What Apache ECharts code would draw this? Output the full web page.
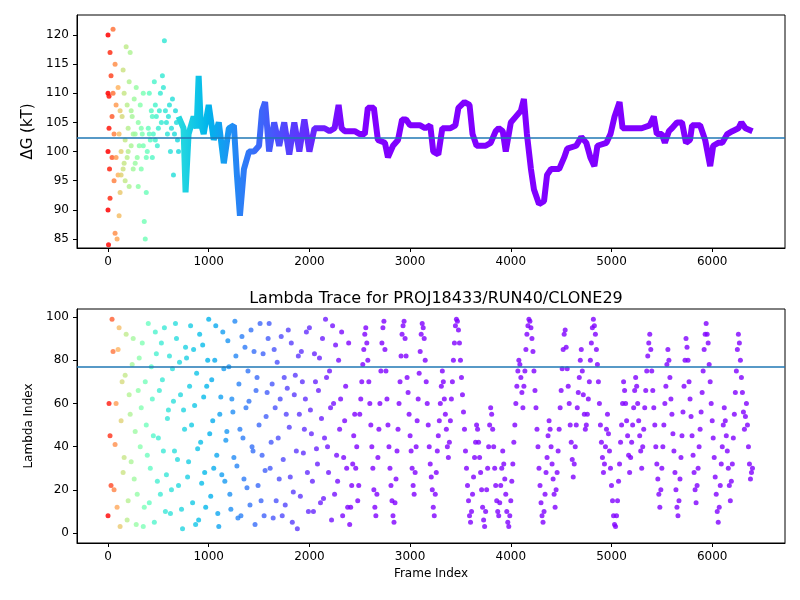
<!DOCTYPE html>
<html><head><meta charset="utf-8">
<script src="https://cdn.jsdelivr.net/npm/echarts@6/dist/echarts.min.js"></script>
<style>html,body{margin:0;padding:0;background:#fff}#c{width:800px;height:600px}</style>
</head><body><div id="c"></div>
<script>
// ΔG scattered early samples [frame, dG]
const earlyPoints = [[0,120],[0,110],[0,100],[0,90],[5,84],[10,109.5],[15,97],[20,92],[10,104],[20,117],[30,113],[40,106],[50,121],[50,110],[60,103],[60,95],[40,99],[70,86],[70,115],[80,108],[80,99],[90,85],[100,96],[100,111],[110,89],[110,103],[120,93],[130,100],[140,106],[150,114],[150,97],[160,110],[170,102],[170,95],[180,118],[190,108],[190,99],[200,104],[210,94],[210,112],[220,117],[230,101],[240,106],[250,97],[260,109],[270,103],[280,111],[290,99],[300,105],[300,94],[310,101],[320,108],[330,97],[340,103],[350,110],[360,88],[370,85],[380,93],[390,100],[400,104],[410,110],[420,102],[430,107],[440,99],[450,103],[460,112],[470,108],[480,106],[490,101],[500,104],[520,110],[540,113],[560,119],[570,107],[580,105],[600,106],[620,100],[640,109],[650,96],[660,103],[680,105],[700,100],
[120,107],[130,96],[160,98],[200,100],[230,107],[250,103],[270,98],[330,104],[350,101],[380,99],[410,103],[440,106],[470,102],[510,107],[530,105],[550,111],[590,103],[610,108],[630,104],[670,107],[690,102]];
// ΔG trace after frame 700
const traceFrames = [700,750,770,800,850,880,900,920,950,1000,1050,1100,1150,1200,1250,1280,1310,1350,1400,1450,1500,1530,1560,1600,1650,1700,1750,1800,1850,1900,1950,2000,2050,2100,2150,2200,2250,2290,2320,2350,2400,2450,2500,2550,2580,2640,2680,2750,2780,2830,2880,2920,2960,3000,3050,3100,3150,3200,3230,3280,3320,3400,3450,3480,3540,3590,3620,3660,3750,3800,3850,3880,3920,3950,4000,4050,4100,4130,4160,4200,4230,4280,4330,4360,4400,4480,4530,4560,4650,4700,4750,4790,4830,4860,4950,4990,5030,5080,5110,5200,5300,5380,5420,5450,5500,5530,5570,5600,5650,5700,5740,5780,5800,5880,5930,5980,6010,6060,6100,6150,6200,6260,6290,6330,6400];
const traceDG = [106,104,93,103,106,104,113,105,103,108,102,105,98,104,104.5,96,89,97,100,100,101,107,108.5,100,105,101,105,99.5,105,100,105.5,100,104,104,104,103.5,104,108,104,103.5,103.5,103.5,103,103,107.5,107.5,102,101.5,99,101,102,105.5,105.5,104.5,104.5,104.5,104,104.5,100,99.5,104,104,104.5,107.5,108.5,108,103,101,101,101.5,103.5,104,103.5,100,105,106,107,109,103,97,93.5,91,91.5,96,97,97,99,100.5,101,102.5,101.5,99,97.5,101,101.5,103,106,108.5,104,104,104,104.5,106,103,103,101.5,103.5,104,105,105,101.5,102,104.5,104.5,102,97.5,101,101.5,101.5,103,103.5,104,105,104,103.5];
// Lambda index every 20 frames starting at 0
const lambdaStep = 20;
const lambdaValues = [
8,45,99,20,60,85,3,70,35,92,15,55,78,25,4,66,40,88,12,50,
97,30,62,5,83,44,18,71,95,27,57,9,76,38,90,22,64,2,48,81,
33,96,14,59,74,6,42,87,28,68,99,17,52,80,36,3,63,93,24,47,
77,11,56,98,31,69,8,44,86,21,61,94,38,4,72,50,15,83,29,65,
97,42,7,58,79,25,91,34,13,67,49,88,19,73,2,55,84,37,62,28,
95,46,10,70,32,81,53,16,99,40,75,6,60,87,24,48,93,35,68,12,
4,22,45,30,15,55,70,85,95,80,60,40,20,8,35,60,88,98,75,50,
30,15,5,25,48,70,92,98,82,65,45,30,18,40,62,84,97,90,70,50,
32,20,8,28,45,60,75,62,48,35,52,70,88,99,94,80,64,48,30,15,
5,18,35,50,42,28,12,3,20,40,58,48,30,15,8,22,38,25,10,3,
15,32,50,68,80,72,58,75,92,99,95,84,66,48,30,14,5,18,35,52,
40,25,12,28,48,66,85,94,76,60,42,26,40,58,72,85,64,48,55,70,
88,99,92,78,60,42,28,40,55,38,22,8,3,15,32,50,70,60,45,28,
42,58,72,60,45,30,48,66,82,92,75,58,40,25,12,30,50,68,85,72,
55,38,20,8,25,45,68,90,80,62,45,28,14,30,48,65,85,97,88,70,
52,35,18,5,22,40,58,45,30,15,32,55,75,92,80,65,48,60,40,25,
30];
// Lambda index at the frames in between (10, 30, 50, ...)
const lambdaValuesMid = [
60,22,84,41,12,95,52,28,73,6,64,33,90,47,18,81,58,3,70,36,
14,77,45,93,24,66,88,38,10,53,82,20,61,97,34,79,11,57,86,26,
68,50,85,4,39,92,23,63,12,80,46,71,30,96,9,55,27,76,43,89,
18,62,35,82,7,48,91,25,58,75,13,40,84,66,22,97,36,8,54,90,
30,69,85,15,44,62,8,72,55,94,26,5,64,38,82,17,70,48,93,10,
57,24,83,39,66,14,90,44,72,28,58,96,18,36,80,62,8,52,30,88,
12,32,55,40,22,62,78,92,88,70,50,30,12,18,48,75,95,85,62,40,
22,8,14,38,60,82,96,90,72,55,38,22,28,52,74,92,95,80,60,40,
26,12,18,38,52,68,70,55,40,42,62,80,96,98,88,72,56,38,22,8,
10,26,42,48,35,20,6,10,30,50,55,40,22,10,14,30,32,18,5,8,
24,42,60,75,78,65,68,85,96,98,90,75,58,40,22,8,10,28,45,48,
32,18,20,38,58,76,92,86,68,50,34,32,50,65,80,75,55,50,62,80,
95,96,85,70,50,35,32,48,46,30,15,4,8,24,42,60,66,52,36,35,
50,66,68,52,38,40,58,75,88,85,66,50,32,18,20,40,60,78,80,62,
46,28,12,15,35,56,80,86,70,54,36,20,22,40,56,75,92,92,78,60,
44,26,10,12,32,50,52,38,22,24,44,65,85,88,72,56,54,50,32,28];

const dgMeanLine = 102.4;
const lambdaMeanLine = 77.2;
const xTicks = [0,1000,2000,3000,4000,5000,6000];
const dgTicks = [85,90,95,100,105,110,115,120];
const lambdaTicks = [0,20,40,60,80,100];

// colour mapping (matplotlib rainbow), frame -> t
const knots = [[0,1],[50,0.85],[150,0.65],[500,0.38],[800,0.3],[1300,0.17],[1800,0.08],[2400,0]];
function tOf(f){ if(f>=2400) return 0; for(let i=1;i<knots.length;i++){ if(f<=knots[i][0]){const a=knots[i-1],b=knots[i];return a[1]+(b[1]-a[1])*(f-a[0])/(b[0]-a[0]);} } return 0; }
function rainbow(t){ const c=v=>Math.round(Math.max(0,Math.min(1,v))*255); return 'rgb('+c(Math.abs(2*t-0.5))+','+c(Math.sin(Math.PI*t))+','+c(Math.cos(Math.PI*t/2))+')'; }
const stops=[]; for(let f=0; f<=6400; f+=25) stops.push(rainbow(tOf(f)));

const lambdaData = lambdaValues.map((v,i)=>[i*lambdaStep,v]).concat(lambdaValuesMid.map((v,i)=>[i*lambdaStep+10,v]));
const traceData = traceFrames.map((f,i)=>[f,traceDG[i]]);

const FONT='DejaVu Sans';
const chart = echarts.init(document.getElementById('c'));
const xCommon = (gi, name) => ({type:'value', gridIndex:gi, min:-308, max:6723, name:name, nameLocation:'middle', nameGap:25,
  nameTextStyle:{fontSize:12,color:'#000',fontFamily:FONT},
  axisLine:{onZero:false,lineStyle:{color:'#000'}}, splitLine:{show:false},
  axisTick:{customValues:xTicks,length:4,lineStyle:{color:'#000'}}, axisLabel:{customValues:xTicks,color:'#000',fontSize:12,fontFamily:FONT,formatter:v=>String(v)}});
const yCommon = (gi,min,max,ticks,name,fs) => ({type:'value',gridIndex:gi,min:min,max:max,name:name,nameLocation:'middle',nameGap:38,
  nameTextStyle:{fontSize:fs,color:'#000',fontFamily:FONT},
  axisLine:{show:true,onZero:false,lineStyle:{color:'#000'}},splitLine:{show:false},
  axisTick:{show:true,customValues:ticks,length:4,lineStyle:{color:'#000'}},axisLabel:{customValues:ticks,color:'#000',fontSize:12,fontFamily:FONT}});
chart.setOption({
  animation:false,
  textStyle:{fontFamily:FONT},
  title:{text:'Lambda Trace for PROJ18433/RUN40/CLONE29', left:431, top:286, textAlign:'center', textStyle:{fontSize:16,fontWeight:'normal',color:'#000',fontFamily:FONT}},
  grid:[{left:77,right:15,top:15,height:233, show:true, borderColor:'#000', borderWidth:1},
        {left:77,right:15,top:309,height:234, show:true, borderColor:'#000', borderWidth:1}],
  xAxis:[xCommon(0,''), xCommon(1,'Frame Index')],
  yAxis:[yCommon(0,83.46,123.43,dgTicks,'ΔG (kT)',15), yCommon(1,-4.6,103.7,lambdaTicks,'Lambda Index',12)],
  visualMap:{type:'continuous',show:false,dimension:0,min:0,max:6400,seriesIndex:[0,1,2],inRange:{color:stops}},
  series:[
   {type:'scatter',xAxisIndex:0,yAxisIndex:0,data:earlyPoints,symbolSize:5,itemStyle:{opacity:0.85}},
   {type:'line',xAxisIndex:0,yAxisIndex:0,data:traceData,showSymbol:false,lineStyle:{width:6},
    markLine:{silent:true,symbol:'none',label:{show:false},lineStyle:{color:'#1f77b4',width:1.5,type:'solid'},data:[{yAxis:dgMeanLine}]}},
   {type:'scatter',xAxisIndex:1,yAxisIndex:1,data:lambdaData,symbolSize:5,
    markLine:{silent:true,symbol:'none',label:{show:false},lineStyle:{color:'#1f77b4',width:1.5,type:'solid'},data:[{yAxis:lambdaMeanLine}]}}
  ]
});
</script></body></html>
